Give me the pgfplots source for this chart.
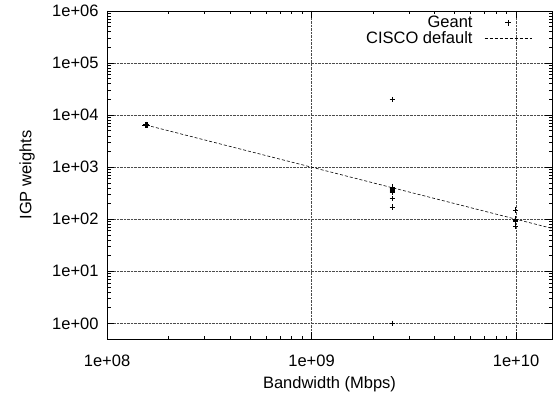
\documentclass[border=0pt]{standalone}
\usepackage{fontspec}
\setmainfont{Liberation Sans}
\usepackage{pgfplots}
\pgfplotsset{compat=1.18}
\pgfplotsset{
  markleg/.style={legend image code/.code={\path[draw=none,fill=none] (0bp,0bp) -- (57bp,0bp); \draw[##1] plot coordinates {(33.5bp,0bp)};}},
  lineleg/.style={legend image code/.code={\path[draw=none,fill=none] (0bp,0bp) -- (10bp,0bp); \draw[##1] (10bp,0bp) -- (57bp,0bp);}},
}
\begin{document}
\begin{tikzpicture}[font=\fontsize{16.5bp}{19bp}\selectfont]
\path[use as bounding box] (-107bp,-60bp) rectangle (453bp,339bp);
\begin{axis}[
  at={(0,0)}, anchor=south west,
  font=\fontsize{16.5bp}{19bp}\selectfont,
  scale only axis, width=445bp, height=328bp,
  xmode=log, ymode=log,
  xmin=1e8, xmax=1.5e10, ymin=0.5, ymax=1e6,
  xtick={1e8,1e9,1e10}, xticklabels={1e+08,1e+09,1e+10},
  ytick={1,10,100,1000,10000,100000,1000000},
  yticklabels={1e+00,1e+01,1e+02,1e+03,1e+04,1e+05,1e+06},
  /pgf/number format/assume math mode=true,
  tick label style={font=\fontsize{16.5bp}{19bp}\selectfont},
  tick align=inside,
  major tick length=7bp, minor tick length=3.5bp,
  every tick/.style={black, line width=0.6pt},
  axis line style={line width=0.9pt},
  grid=major, grid style={black!70, densely dotted, line width=0.5pt},
  xticklabel style={yshift=-12bp},
  yticklabel style={xshift=-5bp},
  xlabel={Bandwidth (Mbps)}, ylabel={IGP weights},
  every axis x label/.style={at={(axis description cs:0.5,0)}, anchor=north, yshift=-37bp, inner sep=0pt, font=\fontsize{16.5bp}{19bp}\selectfont},
  every axis y label/.style={at={(axis description cs:0,0.5)}, xshift=-80bp, rotate=90, anchor=center, inner sep=0pt, font=\fontsize{16.5bp}{19bp}\selectfont},
  legend plot pos=right,
  legend cell align=right,
  legend style={draw=none, fill=none, at={(axis description cs:1,1)}, anchor=north east,
    xshift=-20bp, yshift=-3bp,
    row sep=-2bp, inner sep=0bp,
    font=\fontsize{16.5bp}{19bp}\selectfont,
    nodes={inner sep=2bp}},
]
\addplot[only marks, mark=+, mark size=2.8bp, black, line width=0.5pt, markleg] coordinates {
  (1.555e8,6300) (1.555e8,6450) (1.555e8,6600) (1.58e8,6500) (1.53e8,6500)
  (2.488e9,20000) (2.488e9,420) (2.488e9,400) (2.488e9,385) (2.488e9,370)
  (2.488e9,355) (2.488e9,340) (2.488e9,332) (2.488e9,248) (2.488e9,171) (2.488e9,1)
  (9.953e9,150) (9.953e9,100) (9.953e9,95) (9.953e9,90) (9.953e9,72)
};
\addlegendentry{Geant}
\addplot[black, line width=0.6pt, dash pattern=on 3bp off 2bp, lineleg] coordinates {
  (1.555e8,6431) (1e9,1000) (1e10,100) (1.5e10,66.7)
};
\addlegendentry{CISCO default}
\end{axis}
\end{tikzpicture}
\end{document}
